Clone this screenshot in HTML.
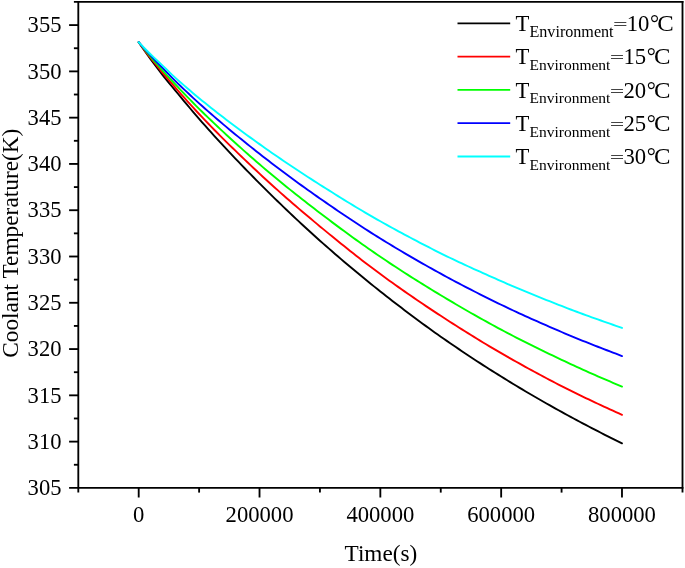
<!DOCTYPE html>
<html><head><meta charset="utf-8"><title>Coolant Temperature</title>
<style>html,body{margin:0;padding:0;background:#fff}svg{display:block}</style></head>
<body>
<svg width="685" height="568" viewBox="0 0 685 568" font-family="'Liberation Serif', 'Times New Roman', serif" font-size="22.7" fill="#000">
<rect width="685" height="568" fill="#fff"/>
<polyline points="138.70,42.22 141.72,46.66 144.74,50.99 147.76,55.24 150.78,59.41 153.80,63.51 156.82,67.54 159.84,71.52 162.86,75.40 165.88,79.18 168.90,82.87 171.93,86.51 174.95,90.12 177.97,93.74 180.99,97.38 184.01,101.02 187.03,104.65 190.05,108.25 193.07,111.83 196.09,115.36 199.11,118.86 202.13,122.30 205.15,125.72 208.17,129.11 211.19,132.48 214.21,135.82 217.23,139.13 220.25,142.42 223.27,145.69 226.29,148.94 229.31,152.16 232.34,155.36 235.36,158.55 238.38,161.71 241.40,164.85 244.42,167.98 247.44,171.09 250.46,174.17 253.48,177.25 256.50,180.30 259.52,183.34 262.54,186.37 265.56,189.38 268.58,192.37 271.60,195.35 274.62,198.31 277.64,201.25 280.66,204.18 283.68,207.09 286.70,209.99 289.73,212.87 292.75,215.73 295.77,218.57 298.79,221.39 301.81,224.20 304.83,226.99 307.85,229.77 310.87,232.52 313.89,235.25 316.91,237.97 319.93,240.67 322.95,243.35 325.97,246.01 328.99,248.66 332.01,251.30 335.03,253.92 338.05,256.53 341.07,259.12 344.09,261.70 347.11,264.26 350.13,266.81 353.16,269.34 356.18,271.85 359.20,274.35 362.22,276.84 365.24,279.31 368.26,281.77 371.28,284.20 374.30,286.63 377.32,289.04 380.34,291.43 383.36,293.81 386.38,296.18 389.40,298.54 392.42,300.89 395.44,303.22 398.46,305.55 401.48,307.86 404.50,310.16 407.52,312.45 410.54,314.73 413.57,316.99 416.59,319.24 419.61,321.47 422.63,323.69 425.65,325.89 428.67,328.08 431.69,330.25 434.71,332.41 437.73,334.55 440.75,336.67 443.77,338.78 446.79,340.88 449.81,342.96 452.83,345.03 455.85,347.09 458.87,349.14 461.89,351.17 464.91,353.20 467.93,355.21 470.95,357.21 473.98,359.19 477.00,361.17 480.02,363.13 483.04,365.08 486.06,367.02 489.08,368.95 492.10,370.87 495.12,372.77 498.14,374.66 501.16,376.55 504.18,378.42 507.20,380.28 510.22,382.13 513.24,383.96 516.26,385.79 519.28,387.61 522.30,389.41 525.32,391.21 528.34,392.99 531.37,394.76 534.39,396.53 537.41,398.28 540.43,400.02 543.45,401.75 546.47,403.47 549.49,405.18 552.51,406.88 555.53,408.57 558.55,410.25 561.57,411.92 564.59,413.58 567.61,415.23 570.63,416.87 573.65,418.50 576.67,420.12 579.69,421.74 582.71,423.34 585.73,424.93 588.75,426.51 591.77,428.08 594.80,429.65 597.82,431.20 600.84,432.75 603.86,434.28 606.88,435.81 609.90,437.33 612.92,438.84 615.94,440.34 618.96,441.83 621.98,443.31" fill="none" stroke="#000000" stroke-width="1.9" stroke-linejoin="round" stroke-linecap="round"/>
<polyline points="138.70,42.22 141.72,46.34 144.74,50.37 147.76,54.32 150.78,58.20 153.80,62.01 156.82,65.75 159.84,69.45 162.86,73.09 165.88,76.68 168.90,80.23 171.93,83.73 174.95,87.20 177.97,90.64 180.99,94.04 184.01,97.42 187.03,100.80 190.05,104.15 193.07,107.47 196.09,110.76 199.11,114.01 202.13,117.21 205.15,120.38 208.17,123.53 211.19,126.64 214.21,129.73 217.23,132.79 220.25,135.83 223.27,138.84 226.29,141.83 229.31,144.81 232.34,147.76 235.36,150.69 238.38,153.61 241.40,156.51 244.42,159.39 247.44,162.26 250.46,165.12 253.48,167.97 256.50,170.80 259.52,173.62 262.54,176.43 265.56,179.21 268.58,181.98 271.60,184.73 274.62,187.45 277.64,190.16 280.66,192.85 283.68,195.52 286.70,198.17 289.73,200.81 292.75,203.43 295.77,206.04 298.79,208.63 301.81,211.21 304.83,213.77 307.85,216.32 310.87,218.85 313.89,221.38 316.91,223.89 319.93,226.40 322.95,228.89 325.97,231.38 328.99,233.86 332.01,236.33 335.03,238.79 338.05,241.24 341.07,243.68 344.09,246.11 347.11,248.53 350.13,250.94 353.16,253.33 356.18,255.70 359.20,258.06 362.22,260.40 365.24,262.73 368.26,265.03 371.28,267.32 374.30,269.59 377.32,271.84 380.34,274.06 383.36,276.27 386.38,278.47 389.40,280.65 392.42,282.82 395.44,284.97 398.46,287.12 401.48,289.25 404.50,291.36 407.52,293.47 410.54,295.56 413.57,297.64 416.59,299.71 419.61,301.77 422.63,303.81 425.65,305.84 428.67,307.86 431.69,309.86 434.71,311.86 437.73,313.84 440.75,315.81 443.77,317.78 446.79,319.73 449.81,321.68 452.83,323.61 455.85,325.54 458.87,327.46 461.89,329.37 464.91,331.27 467.93,333.16 470.95,335.04 473.98,336.91 477.00,338.77 480.02,340.61 483.04,342.44 486.06,344.26 489.08,346.07 492.10,347.86 495.12,349.64 498.14,351.40 501.16,353.15 504.18,354.89 507.20,356.62 510.22,358.34 513.24,360.05 516.26,361.75 519.28,363.45 522.30,365.13 525.32,366.80 528.34,368.47 531.37,370.12 534.39,371.77 537.41,373.40 540.43,375.03 543.45,376.64 546.47,378.24 549.49,379.84 552.51,381.42 555.53,382.99 558.55,384.55 561.57,386.10 564.59,387.64 567.61,389.16 570.63,390.67 573.65,392.17 576.67,393.65 579.69,395.12 582.71,396.58 585.73,398.03 588.75,399.48 591.77,400.91 594.80,402.33 597.82,403.75 600.84,405.15 603.86,406.55 606.88,407.95 609.90,409.34 612.92,410.72 615.94,412.10 618.96,413.48 621.98,414.85" fill="none" stroke="#ff0000" stroke-width="1.9" stroke-linejoin="round" stroke-linecap="round"/>
<polyline points="138.70,42.22 141.72,46.03 144.74,49.76 147.76,53.41 150.78,57.00 153.80,60.52 156.82,63.98 159.84,67.40 162.86,70.78 165.88,74.13 168.90,77.45 171.93,80.74 174.95,83.99 177.97,87.19 180.99,90.34 184.01,93.47 187.03,96.59 190.05,99.70 193.07,102.77 196.09,105.82 199.11,108.82 202.13,111.79 205.15,114.72 208.17,117.64 211.19,120.54 214.21,123.41 217.23,126.26 220.25,129.09 223.27,131.91 226.29,134.70 229.31,137.47 232.34,140.23 235.36,142.97 238.38,145.69 241.40,148.40 244.42,151.09 247.44,153.76 250.46,156.42 253.48,159.06 256.50,161.69 259.52,164.30 262.54,166.90 265.56,169.47 268.58,172.02 271.60,174.56 274.62,177.07 277.64,179.57 280.66,182.04 283.68,184.51 286.70,186.95 289.73,189.38 292.75,191.79 295.77,194.19 298.79,196.58 301.81,198.95 304.83,201.31 307.85,203.66 310.87,206.00 313.89,208.33 316.91,210.65 319.93,212.97 322.95,215.27 325.97,217.56 328.99,219.85 332.01,222.12 335.03,224.38 338.05,226.63 341.07,228.87 344.09,231.10 347.11,233.32 350.13,235.52 353.16,237.71 356.18,239.88 359.20,242.05 362.22,244.20 365.24,246.33 368.26,248.45 371.28,250.55 374.30,252.64 377.32,254.71 380.34,256.76 383.36,258.80 386.38,260.83 389.40,262.84 392.42,264.84 395.44,266.83 398.46,268.80 401.48,270.77 404.50,272.72 407.52,274.65 410.54,276.58 413.57,278.49 416.59,280.40 419.61,282.29 422.63,284.17 425.65,286.04 428.67,287.90 431.69,289.75 434.71,291.59 437.73,293.42 440.75,295.24 443.77,297.05 446.79,298.86 449.81,300.65 452.83,302.44 455.85,304.22 458.87,305.98 461.89,307.74 464.91,309.49 467.93,311.23 470.95,312.96 473.98,314.68 477.00,316.39 480.02,318.09 483.04,319.78 486.06,321.45 489.08,323.12 492.10,324.77 495.12,326.41 498.14,328.04 501.16,329.65 504.18,331.25 507.20,332.84 510.22,334.42 513.24,335.99 516.26,337.55 519.28,339.09 522.30,340.63 525.32,342.15 528.34,343.67 531.37,345.17 534.39,346.67 537.41,348.16 540.43,349.64 543.45,351.11 546.47,352.57 549.49,354.03 552.51,355.48 555.53,356.92 558.55,358.36 561.57,359.79 564.59,361.22 567.61,362.63 570.63,364.03 573.65,365.42 576.67,366.81 579.69,368.18 582.71,369.55 585.73,370.91 588.75,372.26 591.77,373.60 594.80,374.93 597.82,376.26 600.84,377.58 603.86,378.89 606.88,380.19 609.90,381.49 612.92,382.78 615.94,384.06 618.96,385.33 621.98,386.60" fill="none" stroke="#00ff00" stroke-width="1.9" stroke-linejoin="round" stroke-linecap="round"/>
<polyline points="138.70,42.22 141.72,45.69 144.74,49.07 147.76,52.39 150.78,55.65 153.80,58.85 156.82,62.00 159.84,65.10 162.86,68.19 165.88,71.32 168.90,74.45 171.93,77.55 174.95,80.60 177.97,83.58 180.99,86.46 184.01,89.32 187.03,92.17 190.05,95.02 193.07,97.84 196.09,100.63 199.11,103.37 202.13,106.06 205.15,108.73 208.17,111.38 211.19,114.01 214.21,116.62 217.23,119.22 220.25,121.79 223.27,124.35 226.29,126.89 229.31,129.41 232.34,131.92 235.36,134.41 238.38,136.88 241.40,139.34 244.42,141.79 247.44,144.22 250.46,146.63 253.48,149.04 256.50,151.43 259.52,153.80 262.54,156.17 265.56,158.51 268.58,160.85 271.60,163.17 274.62,165.48 277.64,167.77 280.66,170.05 283.68,172.31 286.70,174.56 289.73,176.80 292.75,179.03 295.77,181.24 298.79,183.44 301.81,185.62 304.83,187.79 307.85,189.95 310.87,192.10 313.89,194.23 316.91,196.36 319.93,198.46 322.95,200.56 325.97,202.65 328.99,204.74 332.01,206.81 335.03,208.88 338.05,210.94 341.07,212.99 344.09,215.03 347.11,217.06 350.13,219.07 353.16,221.08 356.18,223.07 359.20,225.05 362.22,227.02 365.24,228.97 368.26,230.91 371.28,232.83 374.30,234.74 377.32,236.63 380.34,238.50 383.36,240.37 386.38,242.22 389.40,244.05 392.42,245.88 395.44,247.70 398.46,249.51 401.48,251.30 404.50,253.09 407.52,254.86 410.54,256.63 413.57,258.38 416.59,260.12 419.61,261.86 422.63,263.58 425.65,265.29 428.67,266.99 431.69,268.69 434.71,270.37 437.73,272.04 440.75,273.70 443.77,275.35 446.79,276.99 449.81,278.62 452.83,280.23 455.85,281.83 458.87,283.42 461.89,285.00 464.91,286.58 467.93,288.14 470.95,289.69 473.98,291.23 477.00,292.76 480.02,294.29 483.04,295.80 486.06,297.31 489.08,298.82 492.10,300.31 495.12,301.80 498.14,303.28 501.16,304.75 504.18,306.22 507.20,307.66 510.22,309.09 513.24,310.51 516.26,311.91 519.28,313.31 522.30,314.69 525.32,316.06 528.34,317.42 531.37,318.78 534.39,320.12 537.41,321.46 540.43,322.79 543.45,324.12 546.47,325.44 549.49,326.76 552.51,328.07 555.53,329.38 558.55,330.70 561.57,332.00 564.59,333.30 567.61,334.58 570.63,335.84 573.65,337.10 576.67,338.34 579.69,339.57 582.71,340.78 585.73,341.99 588.75,343.19 591.77,344.38 594.80,345.57 597.82,346.74 600.84,347.92 603.86,349.08 606.88,350.25 609.90,351.41 612.92,352.57 615.94,353.73 618.96,354.89 621.98,356.05" fill="none" stroke="#0000ff" stroke-width="1.9" stroke-linejoin="round" stroke-linecap="round"/>
<polyline points="138.70,42.22 141.72,45.38 144.74,48.46 147.76,51.48 150.78,54.45 153.80,57.37 156.82,60.23 159.84,63.06 162.86,65.89 165.88,68.78 168.90,71.69 171.93,74.57 174.95,77.41 177.97,80.15 180.99,82.78 184.01,85.39 187.03,87.99 190.05,90.59 193.07,93.17 196.09,95.71 199.11,98.21 202.13,100.67 205.15,103.10 208.17,105.51 211.19,107.91 214.21,110.28 217.23,112.64 220.25,114.99 223.27,117.32 226.29,119.63 229.31,121.93 232.34,124.21 235.36,126.48 238.38,128.73 241.40,130.97 244.42,133.20 247.44,135.41 250.46,137.61 253.48,139.80 256.50,141.97 259.52,144.14 262.54,146.29 265.56,148.42 268.58,150.55 271.60,152.66 274.62,154.75 277.64,156.83 280.66,158.90 283.68,160.96 286.70,163.00 289.73,165.03 292.75,167.05 295.77,169.05 298.79,171.05 301.81,173.03 304.83,175.00 307.85,176.96 310.87,178.91 313.89,180.85 316.91,182.78 319.93,184.70 322.95,186.61 325.97,188.52 328.99,190.42 332.01,192.32 335.03,194.21 338.05,196.09 341.07,197.97 344.09,199.83 347.11,201.69 350.13,203.53 353.16,205.37 356.18,207.19 359.20,209.00 362.22,210.80 365.24,212.59 368.26,214.36 371.28,216.12 374.30,217.86 377.32,219.58 380.34,221.29 383.36,222.98 386.38,224.66 389.40,226.34 392.42,228.00 395.44,229.66 398.46,231.30 401.48,232.93 404.50,234.56 407.52,236.17 410.54,237.78 413.57,239.38 416.59,240.96 419.61,242.54 422.63,244.11 425.65,245.66 428.67,247.21 431.69,248.75 434.71,250.28 437.73,251.81 440.75,253.32 443.77,254.82 446.79,256.30 449.81,257.76 452.83,259.21 455.85,260.64 458.87,262.07 461.89,263.48 464.91,264.88 467.93,266.26 470.95,267.64 473.98,269.02 477.00,270.38 480.02,271.74 483.04,273.09 486.06,274.44 489.08,275.79 492.10,277.13 495.12,278.47 498.14,279.81 501.16,281.15 504.18,282.48 507.20,283.80 510.22,285.10 513.24,286.39 516.26,287.68 519.28,288.95 522.30,290.21 525.32,291.46 528.34,292.70 531.37,293.94 534.39,295.16 537.41,296.38 540.43,297.60 543.45,298.81 546.47,300.01 549.49,301.22 552.51,302.41 555.53,303.61 558.55,304.80 561.57,305.99 564.59,307.17 567.61,308.34 570.63,309.49 573.65,310.63 576.67,311.76 579.69,312.88 582.71,313.99 585.73,315.09 588.75,316.19 591.77,317.27 594.80,318.35 597.82,319.43 600.84,320.50 603.86,321.56 606.88,322.62 609.90,323.68 612.92,324.74 615.94,325.79 618.96,326.85 621.98,327.90" fill="none" stroke="#00ffff" stroke-width="1.9" stroke-linejoin="round" stroke-linecap="round"/>
<g stroke="#000" stroke-width="1.85" fill="none" stroke-linecap="butt">
<path d="M73.89999999999999,1.9H683.425"/>
<path d="M69.1,487.9H683.425"/>
<path d="M78.3,1.9V492.59999999999997"/>
<path d="M682.5,0.9749999999999999V492.59999999999997"/>
<path d="M69.1,25.10H78.3"/>
<path d="M69.1,71.38H78.3"/>
<path d="M69.1,117.66H78.3"/>
<path d="M69.1,163.94H78.3"/>
<path d="M69.1,210.22H78.3"/>
<path d="M69.1,256.50H78.3"/>
<path d="M69.1,302.78H78.3"/>
<path d="M69.1,349.06H78.3"/>
<path d="M69.1,395.34H78.3"/>
<path d="M69.1,441.62H78.3"/>
<path d="M73.89999999999999,48.24H78.3"/>
<path d="M73.89999999999999,94.52H78.3"/>
<path d="M73.89999999999999,140.80H78.3"/>
<path d="M73.89999999999999,187.08H78.3"/>
<path d="M73.89999999999999,233.36H78.3"/>
<path d="M73.89999999999999,279.64H78.3"/>
<path d="M73.89999999999999,325.92H78.3"/>
<path d="M73.89999999999999,372.20H78.3"/>
<path d="M73.89999999999999,418.48H78.3"/>
<path d="M73.89999999999999,464.76H78.3"/>
<path d="M138.70,487.9V497.5"/>
<path d="M259.52,487.9V497.5"/>
<path d="M380.34,487.9V497.5"/>
<path d="M501.16,487.9V497.5"/>
<path d="M621.98,487.9V497.5"/>
<path d="M199.11,487.9V492.59999999999997"/>
<path d="M319.93,487.9V492.59999999999997"/>
<path d="M440.75,487.9V492.59999999999997"/>
<path d="M561.57,487.9V492.59999999999997"/>
</g>
<text x="61.5" y="32.35" text-anchor="end" textLength="33.88" lengthAdjust="spacingAndGlyphs">355</text>
<text x="61.5" y="78.63" text-anchor="end" textLength="33.88" lengthAdjust="spacingAndGlyphs">350</text>
<text x="61.5" y="124.91" text-anchor="end" textLength="33.88" lengthAdjust="spacingAndGlyphs">345</text>
<text x="61.5" y="171.19" text-anchor="end" textLength="33.88" lengthAdjust="spacingAndGlyphs">340</text>
<text x="61.5" y="217.47" text-anchor="end" textLength="33.88" lengthAdjust="spacingAndGlyphs">335</text>
<text x="61.5" y="263.75" text-anchor="end" textLength="33.88" lengthAdjust="spacingAndGlyphs">330</text>
<text x="61.5" y="310.03" text-anchor="end" textLength="33.88" lengthAdjust="spacingAndGlyphs">325</text>
<text x="61.5" y="356.31" text-anchor="end" textLength="33.88" lengthAdjust="spacingAndGlyphs">320</text>
<text x="61.5" y="402.59" text-anchor="end" textLength="33.88" lengthAdjust="spacingAndGlyphs">315</text>
<text x="61.5" y="448.87" text-anchor="end" textLength="33.88" lengthAdjust="spacingAndGlyphs">310</text>
<text x="61.5" y="495.15" text-anchor="end" textLength="33.88" lengthAdjust="spacingAndGlyphs">305</text>
<text x="138.70" y="521.5" text-anchor="middle" textLength="11.32" lengthAdjust="spacingAndGlyphs">0</text>
<text x="259.52" y="521.5" text-anchor="middle" textLength="67.90" lengthAdjust="spacingAndGlyphs">200000</text>
<text x="380.34" y="521.5" text-anchor="middle" textLength="67.90" lengthAdjust="spacingAndGlyphs">400000</text>
<text x="501.16" y="521.5" text-anchor="middle" textLength="67.90" lengthAdjust="spacingAndGlyphs">600000</text>
<text x="621.98" y="521.5" text-anchor="middle" textLength="67.90" lengthAdjust="spacingAndGlyphs">800000</text>
<text x="380.9" y="560.7" text-anchor="middle" textLength="72.7" lengthAdjust="spacingAndGlyphs">Time(s)</text>
<text transform="translate(17.8,243.2) rotate(-90)" font-size="22.2" text-anchor="middle" textLength="229.2" lengthAdjust="spacingAndGlyphs">Coolant Temperature(K)</text>
<g>
<path d="M457.5,23.30H510.2" stroke="#000000" stroke-width="1.8" fill="none"/>
<text x="515.6" y="31.00">T<tspan dy="5.8" font-size="16.13">Environment</tspan></text>
<text transform="translate(620.28,24.00) scale(1.1,0.68)" y="7.5" text-anchor="middle" stroke="#000" stroke-width="0.25">=</text>
<text x="626.66" y="31.00">10<tspan dx="0.6">°</tspan></text>
<text transform="translate(657.16,31.00) scale(1.09,1)">C</text>
</g>
<g>
<path d="M457.5,56.60H510.2" stroke="#ff0000" stroke-width="1.8" fill="none"/>
<text x="515.6" y="64.25">T<tspan dy="5.8" font-size="15.5">Environment</tspan></text>
<text transform="translate(617.10,57.25) scale(1.1,0.68)" y="7.5" text-anchor="middle" stroke="#000" stroke-width="0.25">=</text>
<text x="623.48" y="64.25">15<tspan dx="0.6">°</tspan></text>
<text transform="translate(653.98,64.25) scale(1.09,1)">C</text>
</g>
<g>
<path d="M457.5,89.90H510.2" stroke="#00ff00" stroke-width="1.8" fill="none"/>
<text x="515.6" y="97.50">T<tspan dy="5.8" font-size="15.5">Environment</tspan></text>
<text transform="translate(617.10,90.50) scale(1.1,0.68)" y="7.5" text-anchor="middle" stroke="#000" stroke-width="0.25">=</text>
<text x="623.48" y="97.50">20<tspan dx="0.6">°</tspan></text>
<text transform="translate(653.98,97.50) scale(1.09,1)">C</text>
</g>
<g>
<path d="M457.5,123.20H510.2" stroke="#0000ff" stroke-width="1.8" fill="none"/>
<text x="515.6" y="130.75">T<tspan dy="5.8" font-size="15.5">Environment</tspan></text>
<text transform="translate(617.10,123.75) scale(1.1,0.68)" y="7.5" text-anchor="middle" stroke="#000" stroke-width="0.25">=</text>
<text x="623.48" y="130.75">25<tspan dx="0.6">°</tspan></text>
<text transform="translate(653.98,130.75) scale(1.09,1)">C</text>
</g>
<g>
<path d="M457.5,156.50H510.2" stroke="#00ffff" stroke-width="1.8" fill="none"/>
<text x="515.6" y="164.00">T<tspan dy="5.8" font-size="15.5">Environment</tspan></text>
<text transform="translate(617.10,157.00) scale(1.1,0.68)" y="7.5" text-anchor="middle" stroke="#000" stroke-width="0.25">=</text>
<text x="623.48" y="164.00">30<tspan dx="0.6">°</tspan></text>
<text transform="translate(653.98,164.00) scale(1.09,1)">C</text>
</g>
</svg>
</body></html>
